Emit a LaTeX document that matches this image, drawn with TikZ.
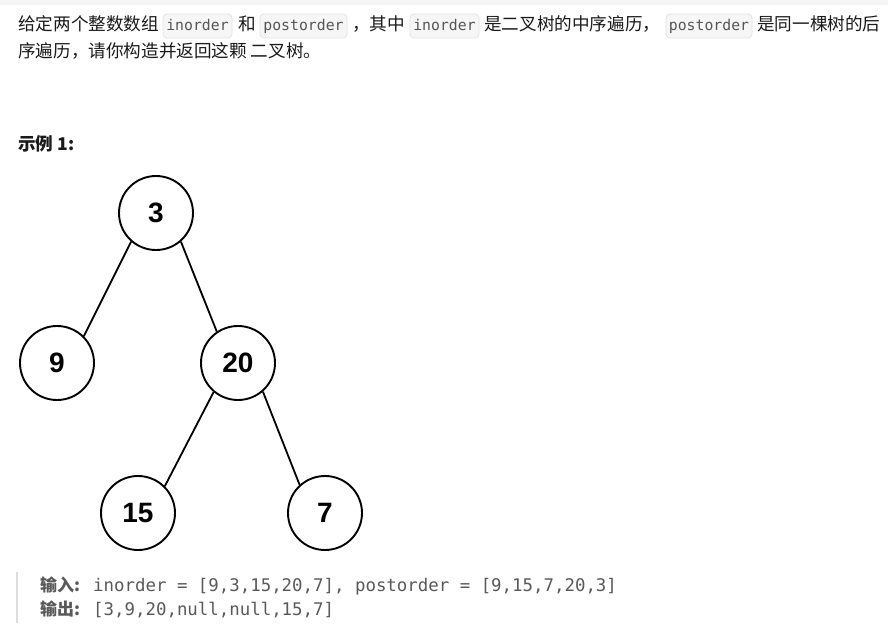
\documentclass[tikz,border=0pt]{standalone}
\usepackage{fontspec}
\setmainfont{Liberation Sans}
\newfontfamily\cjk{Noto Sans CJK SC}
\newfontfamily\mono{DejaVu Sans Mono}
\definecolor{txt}{HTML}{1A1A1A}
\definecolor{codetxt}{HTML}{555555}
\definecolor{chipbg}{HTML}{F6F6F6}
\definecolor{chipbd}{HTML}{E3E3E3}
\definecolor{quotetxt}{HTML}{595959}
\definecolor{barc}{HTML}{DDDDDD}
\tikzset{
  tnode/.style={circle,draw=black,line width=1.9pt,minimum size=74pt,inner sep=0pt,
    font=\fontsize{28}{28}\selectfont\bfseries},
  edge/.style={line width=1.8pt,draw=black},
  para/.style={anchor=base west,inner sep=0pt,text=txt,font=\cjk\fontsize{17.6}{20}\selectfont},
  chip/.style={draw=chipbd,fill=chipbg,rounded corners=4pt,line width=0.8pt},
  chiptext/.style={anchor=base,inner sep=0pt,text=codetxt,font=\mono\fontsize{14.8}{17}\selectfont},
  qlabel/.style={anchor=base west,inner sep=0pt,text=quotetxt,font=\cjk\bfseries\fontsize{17}{20}\selectfont},
  qcode/.style={anchor=base west,inner sep=0pt,text=quotetxt,font=\mono\fontsize{17.4}{20}\selectfont},
}
\begin{document}
\begin{tikzpicture}[x=1pt,y=-1pt]
\useasboundingbox[fill=white] (0,0) rectangle (888,626);
\fill[gray!8] (0,0) rectangle (888,5);
% paragraph line 1
\node[para] (t1) at (18,31) {给定两个整数数组};
\draw[chip] (163,14) rectangle (232,38);
\node[chiptext] (c1) at (197.5,31) {inorder};
\node[para] (t2) at (238,31) {和};
\draw[chip] (260,14) rectangle (347,38);
\node[chiptext] (c2) at (303.5,31) {postorder};
\node[para] (t3) at (352,31) {，其中};
\draw[chip] (410,14) rectangle (479,38);
\node[chiptext] (c3) at (444.5,31) {inorder};
\node[para] (t4) at (484,31) {是二叉树的中序遍历，};
\draw[chip] (666,14) rectangle (752,38);
\node[chiptext] (c4) at (709,31) {postorder};
\node[para] (t5) at (757,31) {是同一棵树的后};
% line 2
\node[para] (t6) at (18,57) {序遍历，请你构造并返回这颗 二叉树。};
% example header
\node[para,font=\cjk\bfseries\fontsize{17.6}{20}\selectfont] (ex) at (18,150) {示例 1:};
% tree
\node[tnode] (n3) at (156,213) {3};
\node[tnode] (n9) at (57,363) {9};
\node[tnode] (n20) at (238,363) {20};
\node[tnode] (n15) at (138,513) {15};
\node[tnode] (n7) at (325,513) {7};
\draw[edge] (n3.-131) -- (n9.45);
\draw[edge] (n3.-49) -- (n20.124);
\draw[edge] (n20.-130) -- (n15.45);
\draw[edge] (n20.-49) -- (n7.132);
% blockquote
\draw[barc,line width=2.5pt] (17,572) coordinate (b1) -- (17,623) coordinate (b2);
\node[qlabel] (in) at (40,591) {输入:};
\node[qcode] (inv) at (93,591) {inorder = [9,3,15,20,7], postorder = [9,15,7,20,3]};
\node[qlabel] (out) at (40,615) {输出:};
\node[qcode] (outv) at (93,615) {[3,9,20,null,null,15,7]};
\end{tikzpicture}
\end{document}
